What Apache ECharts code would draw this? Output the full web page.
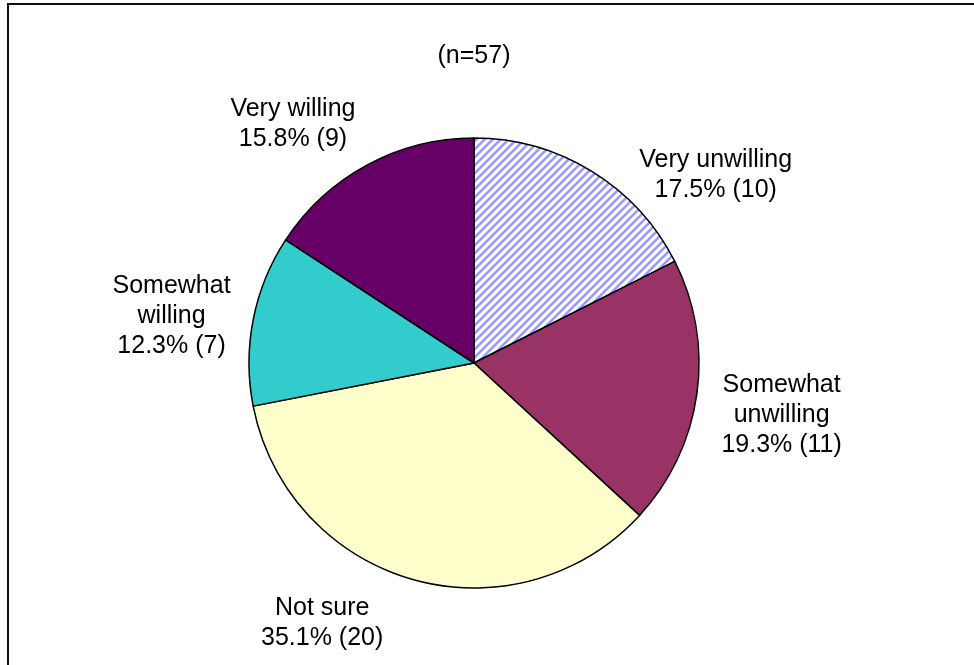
<!DOCTYPE html>
<html>
<head>
<meta charset="utf-8">
<script src="https://cdn.jsdelivr.net/npm/echarts@6/dist/echarts.min.js"></script>
<style>
  html, body { margin: 0; padding: 0; background: #fff; overflow: hidden; }
  #chart { position: absolute; left: 0; top: 0; width: 974px; height: 665px; }
  #frame { position: absolute; left: 7px; top: 3px; width: 1100px; height: 800px;
           border: 2px solid #111; pointer-events: none; }
</style>
</head>
<body>
<div id="chart"></div>
<div id="frame"></div>
<script>
// ---- data ----
const categories = ['Very unwilling', 'Somewhat unwilling', 'Not sure', 'Somewhat willing', 'Very willing'];
const labelNames = ['Very unwilling', 'Somewhat\nunwilling', 'Not sure', 'Somewhat\nwilling', 'Very willing'];
const counts = [10, 11, 20, 7, 9];

// ---- styles ----
const FONT = '"Liberation Sans", Arial, Helvetica, sans-serif';
const CX = 474, CY = 363, R = 225;
const labelAngleShift = [20.6, 1.7, 14.5, -2.3, -8.7];
const labelDist = [306, 312, 301, 306, 300];

function hatchPattern() {
  const c = document.createElement('canvas');
  c.width = 8; c.height = 8;
  const g = c.getContext('2d');
  g.fillStyle = '#ffffff';
  g.fillRect(0, 0, 8, 8);
  g.strokeStyle = '#9999FF';
  g.lineWidth = 2.6;
  g.beginPath();
  g.moveTo(-4, 4); g.lineTo(4, -4);
  g.moveTo(0, 8); g.lineTo(8, 0);
  g.moveTo(4, 12); g.lineTo(12, 4);
  g.stroke();
  return c;
}

const colors = [
  { image: hatchPattern(), repeat: 'repeat' },
  '#993366', '#FFFFCC', '#33CCCC', '#660066'
];

const total = counts.reduce((a, b) => a + b, 0);
const midAngles = [];
{
  let cum = 0;
  counts.forEach(v => { midAngles.push((cum + v / 2) / total * 360); cum += v; });
}

const chart = echarts.init(document.getElementById('chart'), null, { renderer: 'canvas' });
chart.setOption({
  backgroundColor: 'transparent',
  animation: false,
  title: {
    text: '(n=' + total + ')',
    left: CX, top: 41, textAlign: 'center', padding: 0,
    textStyle: { fontFamily: FONT, fontSize: 25, fontWeight: 'normal', color: '#000', lineHeight: 30 }
  },
  series: [{
    type: 'pie',
    center: [CX, CY],
    radius: R,
    startAngle: 90,
    clockwise: true,
    avoidLabelOverlap: false,
    data: categories.map((c, i) => ({
      name: c,
      value: counts[i],
      itemStyle: { color: colors[i] }
    })),
    itemStyle: { borderColor: '#000', borderWidth: 1.5 },
    emphasis: { disabled: true },
    label: {
      show: true,
      position: 'outside',
      fontFamily: FONT,
      fontSize: 25,
      lineHeight: 30,
      color: '#000',
      formatter: p => labelNames[p.dataIndex] + '\n' + (p.value / total * 100).toFixed(1) + '% (' + p.value + ')'
    },
    labelLine: { show: false },
    labelLayout: function (params) {
      const i = params.dataIndex;
      const a = (midAngles[i] + labelAngleShift[i]) * Math.PI / 180;
      return {
        x: CX + labelDist[i] * Math.sin(a),
        y: CY - labelDist[i] * Math.cos(a),
        align: 'center',
        verticalAlign: 'middle'
      };
    }
  }]
});
</script>
</body>
</html>
